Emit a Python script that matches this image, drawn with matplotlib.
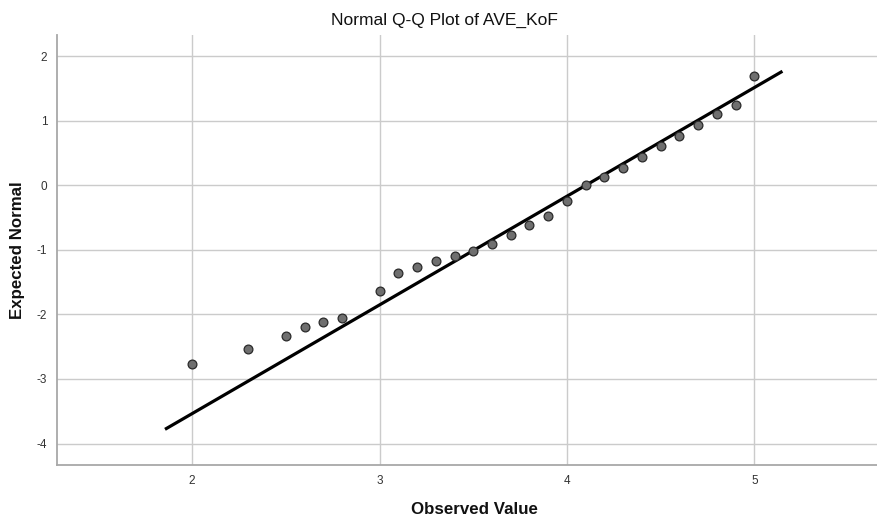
import matplotlib.pyplot as plt

plt.rcParams['font.family'] = ['Liberation Sans', 'DejaVu Sans']

observed = [2.0, 2.3, 2.5, 2.6, 2.7, 2.8, 3.0, 3.1, 3.2, 3.3, 3.4, 3.5, 3.6,
            3.7, 3.8, 3.9, 4.0, 4.1, 4.2, 4.3, 4.4, 4.5, 4.6, 4.7, 4.8, 4.9, 5.0]
expected = [-2.77, -2.53, -2.33, -2.20, -2.12, -2.06, -1.64, -1.36, -1.26, -1.18,
            -1.10, -1.02, -0.91, -0.77, -0.62, -0.48, -0.24, 0.00, 0.13, 0.27,
            0.44, 0.61, 0.76, 0.93, 1.10, 1.25, 1.69]

# reference line end points
line_x = [1.855, 5.15]
line_y = [-3.78, 1.765]

x_ticks = [2, 3, 4, 5]
y_ticks = [-4, -3, -2, -1, 0, 1, 2]

fig = plt.figure(figsize=(8.78, 5.22), dpi=100)
ax = fig.add_axes([0.065, 0.109, 0.935, 0.824])

ax.set_xlim(1.279, 5.66)
ax.set_ylim(-4.334, 2.327)
ax.set_xticks(x_ticks)
ax.set_yticks(y_ticks)
ax.set_xticklabels([str(t) for t in x_ticks])
ax.set_yticklabels([str(t) for t in y_ticks])
ax.tick_params(length=0, labelsize=8.5, colors='#333333', pad=7)
ax.grid(True, color='#cbcbcb', linewidth=1.0)
ax.set_axisbelow(True)

for side in ['top', 'right']:
    ax.spines[side].set_visible(False)
for side in ['left', 'bottom']:
    ax.spines[side].set_color('#a8a8a8')
    ax.spines[side].set_linewidth(1.3)

ax.plot(line_x, line_y, color='black', linewidth=2.3, zorder=3,
        solid_capstyle='butt')
ax.scatter(observed, expected, s=40, color='#6f6f6f', edgecolors='#2a2a2a',
           linewidths=0.9, zorder=4)

fig.text(444 / 878, 1 - 20 / 522, 'Normal Q-Q Plot of AVE_KoF',
         ha='center', va='center', fontsize=12.5, color='#111111')
fig.text(474 / 878, 1 - 510 / 522, 'Observed Value', ha='center', va='center',
         fontsize=12.2, fontweight='bold', color='#111111')
fig.text(18 / 878, 1 - 250 / 522, 'Expected Normal', ha='center', va='center',
         rotation=90, fontsize=12.2, fontweight='bold', color='#111111')

fig.savefig('out.png', dpi=100, facecolor='white')
